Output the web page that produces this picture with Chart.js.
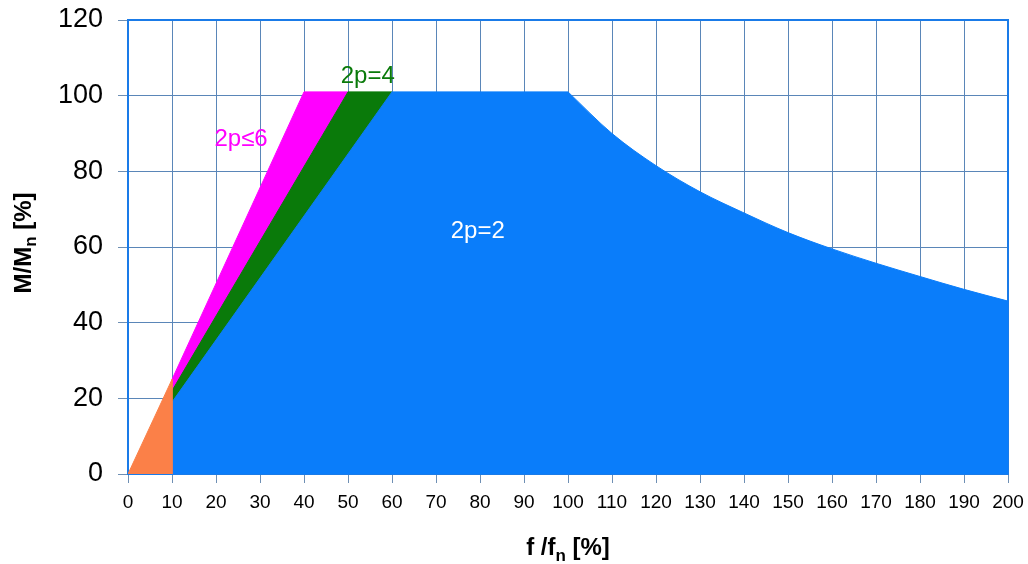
<!DOCTYPE html>
<html>
<head>
<meta charset="utf-8">
<script src="https://cdn.jsdelivr.net/npm/chart.js@4/dist/chart.umd.min.js"></script>
<style>
  body { margin: 0; background: #fff; }
  #wrap { width: 1028px; height: 564px; }
</style>
</head>
<body>
<div id="wrap"><canvas id="torqueChart" width="1028" height="564"></canvas></div>
<script>
// data: f/fn [%] -> M/Mn [%]
const orangeX = [0, 10, 10];
const orangeY = [0, 25, 0];
const magentaX = [10, 40, 50];
const magentaY = [25, 101, 101];
const greenX = [10, 50, 60];
const greenY = [22, 101, 101];
// 2p=2: straight rise and flat top, then the falling curve
const blueX = [10, 60, 100];
const blueY = [19, 101, 101];
const blueCurveX = [100, 110, 120, 130, 140, 150, 160, 170, 180, 190, 200];
const blueCurveY = [101, 90, 81.5, 74.6, 69, 63.8, 59.5, 55.7, 52.2, 48.8, 45.7];

const xTicks = [0, 10, 20, 30, 40, 50, 60, 70, 80, 90, 100, 110, 120, 130, 140, 150, 160, 170, 180, 190, 200];
const yTicks = [0, 20, 40, 60, 80, 100, 120];

// text labels placed inside the plot (data coordinates)
const areaLabels = [
    { text: "2p≤6", x: 25.7, y: 86.8, color: "#ff00ff" },
    { text: "2p=4", x: 54.5, y: 103.3, color: "#0a7a0a" },
    { text: "2p=2", x: 79.5, y: 62.3, color: "#ffffff" }
];

function toPoints(xs, ys) {
    return xs.map((x, i) => ({ x: x, y: ys[i] }));
}

function area(label, xs, ys, color, smooth) {
    return {
        label: label,
        data: toPoints(xs, ys),
        fill: "origin",
        backgroundColor: color,
        borderColor: color,
        borderWidth: 1,
        pointRadius: 0,
        cubicInterpolationMode: smooth ? "monotone" : "default",
        tension: 0
    };
}

// frame round the plot, drawn under the fills
const framePlugin = {
    id: "frame",
    beforeDatasetsDraw(chart) {
        const a = chart.chartArea;
        const c = chart.ctx;
        c.save();
        c.strokeStyle = "#1a7be8";
        c.lineWidth = 2;
        c.strokeRect(a.left, a.top, a.right - a.left, a.bottom - a.top);
        c.restore();
    }
};

// area labels and axis titles with subscripts
const textPlugin = {
    id: "texts",
    afterDatasetsDraw(chart) {
        const c = chart.ctx;
        const xs = chart.scales.x, ys = chart.scales.y;
        c.save();
        c.font = "24px 'Liberation Sans', Arial, sans-serif";
        c.textAlign = "center";
        c.textBaseline = "alphabetic";
        areaLabels.forEach(l => {
            c.fillStyle = l.color;
            c.fillText(l.text, xs.getPixelForValue(l.x), ys.getPixelForValue(l.y));
        });

        // x title: f /fn [%]
        const a = chart.chartArea;
        const big = "bold 24px 'Liberation Sans', Arial, sans-serif";
        const small = "bold 17px 'Liberation Sans', Arial, sans-serif";
        c.fillStyle = "#000";
        c.textAlign = "left";
        let parts = [["f /f", big, 0], ["n", small, 6], [" [%]", big, 0]];
        drawParts(c, parts, (a.left + a.right) / 2, 555);

        // y title: M/Mn [%], rotated
        c.save();
        c.translate(31, 243);
        c.rotate(-Math.PI / 2);
        parts = [["M/M", big, 0], ["n", small, 5], [" [%]", big, 0]];
        drawParts(c, parts, 0, 0);
        c.restore();
        c.restore();
    }
};

function drawParts(c, parts, cx, baseY) {
    let total = 0;
    parts.forEach(p => { c.font = p[1]; total += c.measureText(p[0]).width; });
    let x = cx - total / 2;
    parts.forEach(p => {
        c.font = p[1];
        c.fillText(p[0], x, baseY + p[2]);
        x += c.measureText(p[0]).width;
    });
}

const ctx = document.getElementById("torqueChart");
new Chart(ctx, {
    type: "line",
    data: {
        datasets: [
            area("f < 10%", orangeX, orangeY, "#fb8048", false),
            area("2p=2", blueX, blueY, "#0a7dfa", false),
            area("2p=2 (field weakening)", blueCurveX, blueCurveY, "#0a7dfa", true),
            area("2p=4", greenX, greenY, "#0a7a0a", false),
            area("2p≤6", magentaX, magentaY, "#ff00ff", false)
        ]
    },
    options: {
        responsive: false,
        animation: false,
        layout: { padding: { top: 20, right: 20, left: 0, bottom: 0 } },
        plugins: {
            legend: { display: false },
            tooltip: { enabled: false }
        },
        scales: {
            x: {
                type: "linear",
                min: 0,
                max: 200,
                afterBuildTicks: s => { s.ticks = xTicks.map(v => ({ value: v })); },
                afterFit: s => { s.height = 90; s.paddingLeft = 0; s.paddingRight = 0; },
                grid: { color: "#5a86b8", lineWidth: 1, tickLength: 9, tickColor: "#6e8fb4" },
                border: { display: false },
                ticks: {
                    color: "#000",
                    padding: 8,
                    maxRotation: 0,
                    autoSkip: false,
                    font: { family: "'Liberation Sans', Arial, sans-serif", size: 19 }
                }
            },
            y: {
                type: "linear",
                min: 0,
                max: 120,
                afterBuildTicks: s => { s.ticks = yTicks.map(v => ({ value: v })); },
                afterFit: s => { s.width = 128; s.paddingTop = 0; s.paddingBottom = 0; },
                grid: { color: "#5a86b8", lineWidth: 1, tickLength: 10, tickColor: "#6e8fb4" },
                border: { display: false },
                ticks: {
                    color: "#000",
                    padding: 15,
                    font: { family: "'Liberation Sans', Arial, sans-serif", size: 27 }
                }
            }
        }
    },
    plugins: [framePlugin, textPlugin]
});
</script>
</body>
</html>
